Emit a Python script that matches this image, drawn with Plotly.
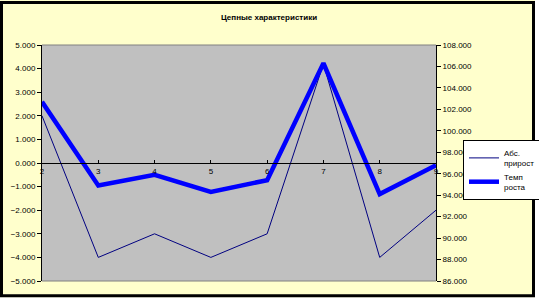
import plotly.graph_objects as go

periods = [2, 3, 4, 5, 6, 7, 8, 9]
abs_growth = [2.0, -4.0, -3.0, -4.0, -3.0, 4.2, -4.0, -2.0]
growth_rate = [102.7, 94.9, 95.9, 94.3, 95.4, 106.3, 94.1, 96.8]
names = ["Абс.<br>прирост", "Темп<br>роста"]
title = "Цепные характеристики"

W, H = 539, 302
ML, MR, MT, MB = 42, 103, 45, 21
PW, PH = W - ML - MR, H - MT - MB


def px(x):
    return (x - ML) / PW


def py(y):
    return (H - MB - y) / PH


FONT = "Liberation Sans, Arial, sans-serif"

fig = go.Figure()
fig.add_trace(go.Scatter(x=periods, y=abs_growth, mode="lines", name=names[0],
                         line=dict(color="#000080", width=1), yaxis="y"))
fig.add_trace(go.Scatter(x=periods, y=growth_rate, mode="lines", name=names[1],
                         line=dict(color="#0000FF", width=4.5), yaxis="y2"))

axis_font = dict(family=FONT, size=8, color="black")

fig.update_layout(
    width=W, height=H,
    margin=dict(l=ML, r=MR, t=MT, b=MB, pad=0, autoexpand=False),
    paper_bgcolor="#FFFFCC",
    plot_bgcolor="#C0C0C0",
    font=dict(family=FONT, size=8, color="black"),
    title=dict(text="<b>" + title + "</b>", x=269 / W, xanchor="center",
               y=1 - 17 / H, yanchor="middle",
               font=dict(family=FONT, size=8, color="black")),
    xaxis=dict(range=[2, 9], tickvals=periods, ticktext=[str(p) for p in periods],
               anchor="free", position=0.5, showline=True, linecolor="black",
               linewidth=1, ticks="inside", ticklen=3, tickcolor="black",
               showgrid=False, zeroline=False, tickfont=axis_font, fixedrange=True,
               automargin=False),
    yaxis=dict(range=[-5, 5], dtick=1, tick0=0, tickformat=".3f", showline=True,
               linecolor="black", linewidth=1, ticks="outside", ticklen=4,
               tickcolor="black", showgrid=False, zeroline=False, tickfont=axis_font,
               automargin=False),
    yaxis2=dict(range=[86, 108], dtick=2, tick0=86, tickformat=".3f", overlaying="y",
                side="right", showline=True, linecolor="black", linewidth=1,
                ticks="outside", ticklen=4, tickcolor="black", showgrid=False,
                zeroline=False, tickfont=axis_font, automargin=False),
    showlegend=True,
    legend=dict(x=px(463), xanchor="left", y=py(140), yanchor="top",
                bgcolor="white", bordercolor="black", borderwidth=1,
                font=dict(family=FONT, size=8, color="black"),
                tracegroupgap=0, itemwidth=30),
    shapes=[
        dict(type="line", xref="paper", yref="paper", x0=0, x1=1, y0=1, y1=1,
             line=dict(color="#808080", width=1)),
        dict(type="line", xref="paper", yref="paper", x0=0, x1=1, y0=0, y1=0,
             line=dict(color="#808080", width=1)),
        dict(type="rect", xref="paper", yref="paper", x0=px(535), x1=px(560),
             y0=py(-10), y1=py(320), fillcolor="white", line=dict(width=0)),
        dict(type="rect", xref="paper", yref="paper", x0=px(-10), x1=px(560),
             y0=py(297.3), y1=py(320), fillcolor="white", line=dict(width=0)),
        dict(type="rect", xref="paper", yref="paper", x0=px(1.5), x1=px(533.5),
             y0=py(2.5), y1=py(295.8), line=dict(color="black", width=3)),
    ],
)

fig.write_html("out.html")
